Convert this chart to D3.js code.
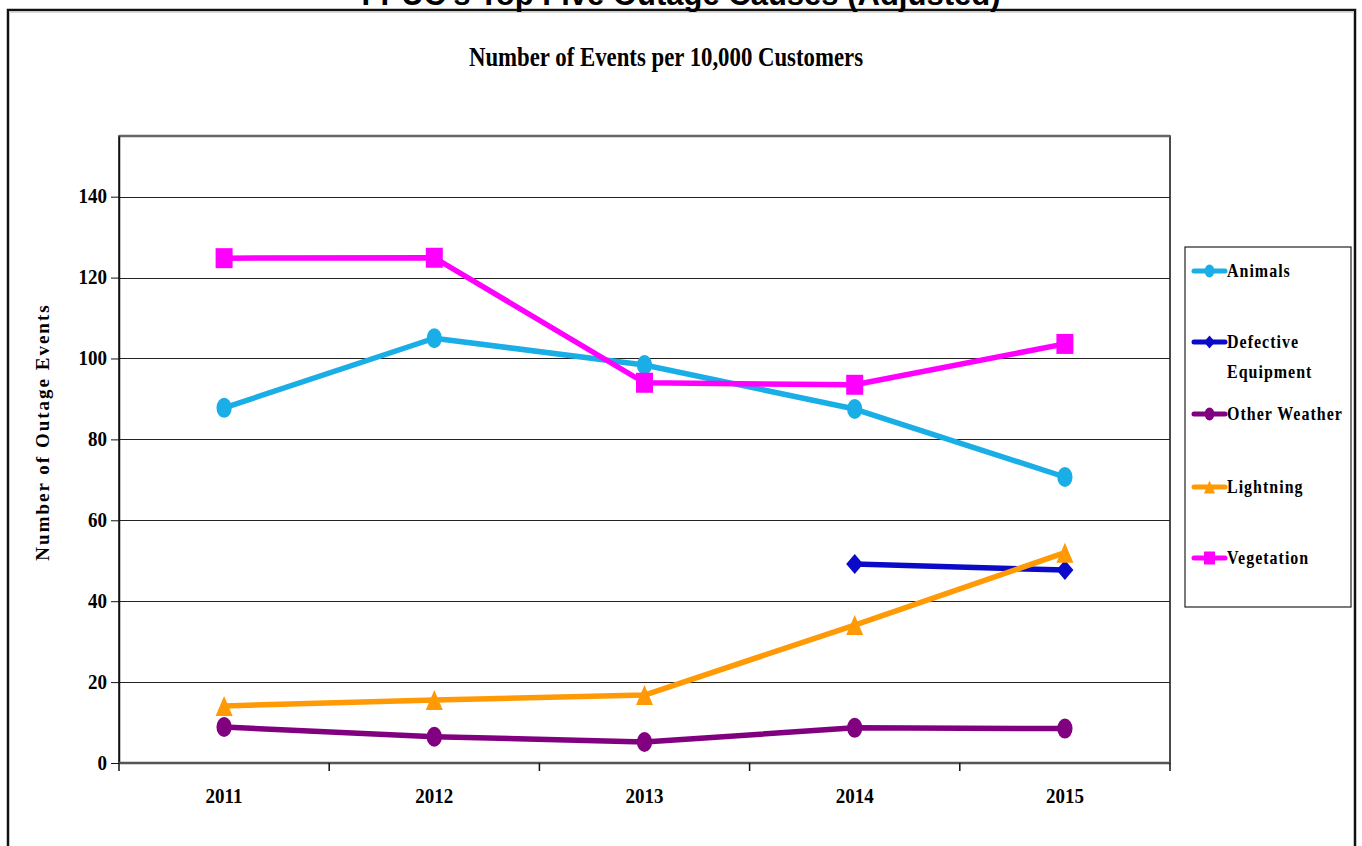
<!DOCTYPE html>
<html>
<head>
<meta charset="utf-8">
<script src="https://cdn.jsdelivr.net/npm/d3@7"></script>
<style>
  html, body { margin: 0; padding: 0; background: #fff; }
  svg { display: block; }
  .serif { font-family: "Liberation Serif", "Times New Roman", serif; font-weight: bold; fill: #000; }
</style>
</head>
<body>
<svg id="chart" width="1362" height="846"></svg>
<script>
// Outage events per 10,000 customers, by cause and year
const years = ["2011", "2012", "2013", "2014", "2015"];
const animals = [87.8, 105.0, 98.4, 87.5, 70.7];
const defectiveEquipment = [null, null, null, 49.2, 47.7];
const otherWeather = [8.9, 6.5, 5.2, 8.7, 8.5];
const lightning = [14.1, 15.6, 16.8, 34.1, 52.0];
const vegetation = [124.8, 124.9, 94.0, 93.5, 103.6];
const yTicks = [0, 20, 40, 60, 80, 100, 120, 140];

const seriesNames = ["Animals", "Defective Equipment", "Other Weather", "Lightning", "Vegetation"];
const seriesValues = [animals, defectiveEquipment, otherWeather, lightning, vegetation];
const seriesColors = ["#1AAEE6", "#0A0AC8", "#800080", "#FF9A05", "#FF00FF"];
const seriesMarkers = ["circle", "diamond", "circle", "triangle", "square"];

const svg = d3.select("#chart");

// outer frame (bottom edge runs off the page)
svg.append("path")
  .attr("d", "M8,880 L8,10 L1355,10 L1355,880")
  .attr("fill", "none").attr("stroke", "#111").attr("stroke-width", 2.5);
svg.append("line").attr("x1", 9).attr("x2", 1354).attr("y1", 12).attr("y2", 12)
  .attr("stroke", "#ccc").attr("stroke-width", 1.5);

// page heading, cut by the top edge
svg.append("text")
  .attr("x", 681).attr("y", 5)
  .attr("text-anchor", "middle")
  .style("font-family", "'Liberation Sans', Arial, sans-serif")
  .style("font-weight", "bold").style("font-size", "31px")
  .text("FPUC's Top Five Outage Causes (Adjusted)");

// chart title
svg.append("text").attr("class", "serif")
  .attr("text-anchor", "middle")
  .attr("transform", "translate(666,66) scale(0.95,1.12)")
  .style("font-size", "24px")
  .text("Number of Events per 10,000 Customers");

const plot = { left: 119, right: 1170, top: 136, bottom: 763 };

const x = d3.scaleBand().domain(years).range([plot.left, plot.right]);
const y = d3.scaleLinear().domain([0, 155]).range([plot.bottom, plot.top]);

// plot frame
svg.append("rect")
  .attr("x", plot.left).attr("y", plot.top)
  .attr("width", plot.right - plot.left).attr("height", plot.bottom - plot.top)
  .attr("fill", "#fff").attr("stroke", "#111").attr("stroke-width", 1.5);
svg.append("line").attr("x1", plot.left).attr("x2", plot.right)
  .attr("y1", plot.top).attr("y2", plot.top)
  .attr("stroke", "#666").attr("stroke-width", 2.5);

// horizontal gridlines
svg.append("g").selectAll("line")
  .data(yTicks.filter(d => d > 0))
  .join("line")
  .attr("x1", plot.left).attr("x2", plot.right)
  .attr("y1", d => Math.round(y(d)) + 0.5).attr("y2", d => Math.round(y(d)) + 0.5)
  .attr("stroke", "#222").attr("stroke-width", 1);

// y axis
const yAxis = svg.append("g")
  .attr("transform", `translate(${plot.left},0)`)
  .call(d3.axisLeft(y).tickValues(yTicks).tickSizeInner(8).tickSizeOuter(0)
    .tickPadding(4).tickFormat(d3.format("d")));
yAxis.select(".domain").attr("stroke", "#111").attr("stroke-width", 1.5);
yAxis.selectAll(".tick line").attr("stroke", "#111");
yAxis.selectAll(".tick text")
  .attr("class", "serif")
  .style("font-size", "19px")
  .attr("transform", "scale(1,1.1)")
  .attr("dy", "0.3em");

// x axis: ticks sit at category boundaries
const xAxisG = svg.append("g").attr("transform", `translate(0,${plot.bottom})`);
xAxisG.append("line")
  .attr("x1", plot.left).attr("x2", plot.right).attr("y1", 0).attr("y2", 0)
  .attr("stroke", "#555").attr("stroke-width", 2.5);
const boundaries = years.map(d => x(d)).concat([x(years[years.length - 1]) + x.bandwidth()]);
xAxisG.selectAll("line.tk")
  .data(boundaries)
  .join("line").attr("class", "tk")
  .attr("x1", d => d).attr("x2", d => d).attr("y1", 0).attr("y2", 8)
  .attr("stroke", "#111").attr("stroke-width", 1.5);
xAxisG.selectAll("text")
  .data(years)
  .join("text").attr("class", "serif")
  .attr("text-anchor", "middle")
  .attr("transform", d => `translate(${x(d) + x.bandwidth() / 2},40) scale(1,1.1)`)
  .style("font-size", "19px")
  .text(d => d);

// y axis title
svg.append("text").attr("class", "serif")
  .attr("text-anchor", "middle")
  .attr("transform", "translate(49,432) rotate(-90)")
  .style("font-size", "19px").style("letter-spacing", "2px")
  .text("Number  of Outage Events");

// marker shapes (slightly taller than wide)
function markerPath(type, size) {
  const w = size * 0.85, h = size;
  switch (type) {
    case "square": return `M${-w/2},${-h/2}h${w}v${h}h${-w}Z`;
    case "diamond": return `M0,${-h/2}L${w/2},0L0,${h/2}L${-w/2},0Z`;
    case "triangle": return `M0,${-h/2}L${w/2},${h/2}L${-w/2},${h/2}Z`;
    default: {
      const rx = w * 0.45, ry = h / 2;
      return `M${-rx},0a${rx},${ry} 0 1,0 ${2*rx},0a${rx},${ry} 0 1,0 ${-2*rx},0Z`;
    }
  }
}

const cx = d => x(d) + x.bandwidth() / 2;
const line = d3.line()
  .defined(d => d.v != null)
  .x(d => cx(d.year))
  .y(d => y(d.v));

const seriesG = svg.append("g");
seriesNames.forEach((name, i) => {
  const pts = years.map((yr, j) => ({ year: yr, v: seriesValues[i][j] }));
  const g = seriesG.append("g");
  g.append("path")
    .attr("d", line(pts))
    .attr("fill", "none")
    .attr("stroke", seriesColors[i])
    .attr("stroke-width", 5.5)
    .attr("stroke-linejoin", "round");
  g.selectAll("path.mk")
    .data(pts.filter(d => d.v != null))
    .join("path").attr("class", "mk")
    .attr("transform", d => `translate(${cx(d.year)},${y(d.v)})`)
    .attr("d", markerPath(seriesMarkers[i], 20))
    .attr("fill", seriesColors[i]);
});

// legend
const legend = svg.append("g");
legend.append("rect")
  .attr("x", 1185).attr("y", 247).attr("width", 166).attr("height", 360)
  .attr("fill", "#fff").attr("stroke", "#222").attr("stroke-width", 1.2);
const legendY = [271, 342, 414, 487, 558];
const legendLabels = [["Animals"], ["Defective", "Equipment"], ["Other Weather"], ["Lightning"], ["Vegetation"]];
seriesNames.forEach((name, i) => {
  const gy = legendY[i];
  legend.append("line")
    .attr("x1", 1194).attr("x2", 1225).attr("y1", gy).attr("y2", gy)
    .attr("stroke", seriesColors[i]).attr("stroke-width", 5).attr("stroke-linecap", "round");
  legend.append("path")
    .attr("transform", `translate(1209.5,${gy})`)
    .attr("d", markerPath(seriesMarkers[i], 13))
    .attr("fill", seriesColors[i]);
  legendLabels[i].forEach((t, k) => {
    legend.append("text").attr("class", "serif")
      .attr("transform", `translate(1227,${gy + 6 + k * 30}) scale(1,1.22)`)
      .style("font-size", "16px").style("letter-spacing", "1px")
      .text(t);
  });
});
</script>
</body>
</html>
